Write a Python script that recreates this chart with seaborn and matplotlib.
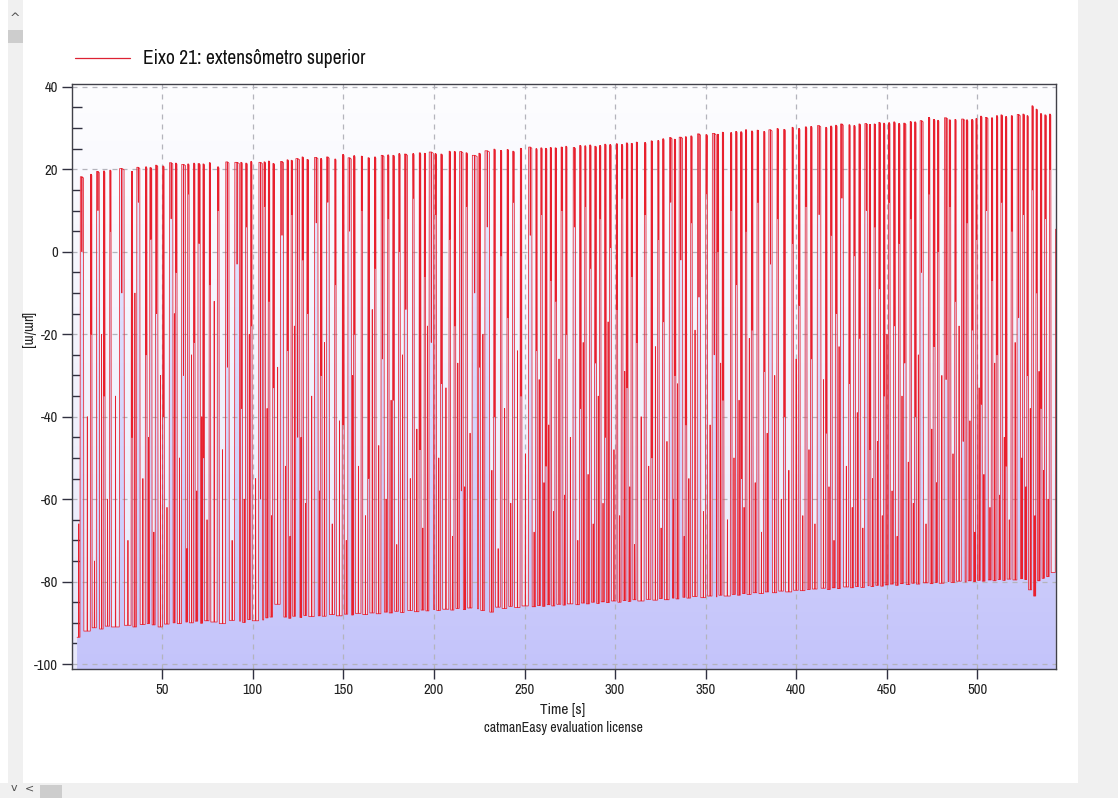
import numpy as np
import pandas as pd
import matplotlib
matplotlib.use("Agg")
import matplotlib.pyplot as plt
from matplotlib import font_manager
from matplotlib.patches import Rectangle
from matplotlib.ticker import MultipleLocator
import seaborn as sns

# ---- measured strain signal: one entry per load pulse ----
start_t, start_val = 3.0, -93.5

rise_t = [
    4.6, 10.3, 13.6, 17.4, 20.9, 26.3, 32.8, 35.8, 40.6, 43.0, 46.1, 50.1, 53.8,
    57.1, 60.6, 63.9, 67.2, 69.6, 72.3, 75.8, 80.3, 84.9, 89.9, 93.2, 95.9, 98.7,
    103.2, 106.0, 108.4, 110.9, 115.1, 118.7, 121.0, 123.6, 127.0, 129.7, 133.9,
    137.2, 140.5, 145.1, 149.3, 152.4, 155.5, 159.7, 163.4, 167.0, 170.7, 174.3,
    177.1, 180.4, 183.5, 188.1, 191.7, 194.5, 197.2, 200.4, 203.6, 208.2, 211.0,
    214.0, 217.5, 221.0, 224.6, 228.0, 232.9, 236.6, 240.2, 243.3, 247.5, 252.1,
    256.1, 258.8, 261.3, 264.0, 266.7, 270.0,
    272.6, 276.7, 280.3, 283.1, 285.8, 288.6, 291.3, 294.1, 296.8, 300.5, 303.3,
    306.0, 308.7, 311.5, 316.0, 319.7, 323.4, 326.1, 329.8, 332.5, 335.2, 338.6,
    341.6, 345.3, 349.9, 353.5, 356.2, 359.0, 363.6, 366.4, 369.1, 371.8, 375.1,
    378.2, 381.9, 384.7, 389.2, 392.9, 397.5, 401.1, 404.8,
    407.8, 411.5, 416.1, 418.8, 421.5, 424.3, 428.9, 431.6, 434.4, 437.7, 440.2,
    442.8, 445.4, 448.1, 450.8, 453.6, 456.3, 459.1, 462.7, 465.2, 468.2, 472.8,
    475.5, 477.9, 481.6, 484.3, 487.4, 491.1, 493.8, 496.6, 499.0, 501.6, 504.2,
    507.6, 510.3, 512.8, 515.4, 518.5, 521.8, 524.9, 527.2, 529.9, 532.2, 534.6,
    537.0, 539.6,
]

top_val = [
    18.2, 18.8, 19.5, 19.6, 19.8, 20.2, 19.5, 20.5, 20.6, 20.4, 21.0, 20.8, 21.6,
    21.5, 21.2, 21.3, 21.5, 21.4, 21.3, 21.6, 20.6, 21.8, 21.7, 21.7, 21.5, 21.9,
    21.7, 21.8, 22.0, 21.4, 21.9, 22.3, 22.2, 22.6, 23.0, 22.4, 22.9,
    22.6, 23.0, 22.5, 23.6, 22.8, 23.3, 23.2, 22.8, 23.0, 23.4, 23.5, 23.4, 23.8,
    23.7, 23.8, 24.0, 23.9, 24.2, 23.8, 23.7, 24.4, 24.3, 24.3, 24.0, 23.4, 23.9,
    24.5, 24.9, 24.6, 24.8, 24.4, 25.1, 25.4, 25.0, 25.2, 25.1, 25.3, 25.2, 25.4,
    25.6, 25.3, 25.8, 25.7, 25.9, 25.6, 25.8, 26.1, 26.0, 26.2, 26.0, 26.4, 26.3,
    26.6, 26.5, 26.9, 27.0, 27.4, 27.7, 27.3, 27.8, 27.9, 28.1, 28.6, 28.4, 28.7,
    28.5, 29.0, 28.9, 29.2, 29.1, 29.6, 29.3, 29.5, 29.2, 29.6, 29.9, 29.7, 30.2,
    29.9, 30.3,
    30.4, 30.6, 30.2, 30.5, 30.7, 31.0, 30.8, 30.6, 31.0, 31.1, 30.9, 31.0, 31.4,
    31.2, 31.3, 31.5, 31.1, 31.2, 31.6, 31.5, 31.8, 32.6, 32.1, 31.9, 32.5, 32.0,
    32.1, 32.2, 32.0, 32.1, 32.3, 32.9, 32.6, 32.5, 33.0, 33.2, 32.8, 33.0, 33.3,
    33.4, 33.0, 35.4, 34.6, 33.5, 33.2, 33.4,
]

hold_s = [
    1.5, 0.4, 1.2, 0.5, 0.4, 2.2, 0.4, 1.4, 0.5, 0.8, 1.0, 0.5, 1.6, 0.6, 1.8,
    0.5, 0.4, 0.9, 0.5, 0.4, 0.6, 1.5, 2.2, 0.5, 0.6, 0.4, 1.6, 0.5, 0.5, 0.6,
    1.4, 0.5, 0.4, 1.8, 0.5, 0.6, 1.6,
    0.5, 1.2, 0.4, 0.6, 1.5, 0.5, 0.4, 0.6, 0.5, 1.3, 0.4, 0.6, 0.5, 1.4, 0.5,
    0.6, 0.4, 2.0, 0.5, 0.6, 0.4, 0.5, 1.6, 0.5, 2.4, 0.6, 2.2, 0.5, 0.4, 0.5,
    0.6, 0.5, 1.5, 0.4, 0.5, 0.6, 0.4, 0.5, 0.6,
    0.4, 1.0, 0.5, 0.4, 0.5, 0.6, 0.4, 0.5, 0.6, 0.4, 0.5, 0.6, 0.5, 0.4, 0.6,
    0.5, 0.4, 0.5, 1.2, 0.5, 1.6, 0.4, 0.5, 1.4, 0.6, 1.8, 0.5, 0.5, 0.4, 0.5,
    0.6, 0.4, 0.5, 0.6, 0.4, 1.5, 0.5, 0.6, 0.4, 0.5, 0.6,
    0.5, 1.6, 0.4, 0.5, 0.6, 1.2, 0.4, 0.5, 0.6, 1.3, 0.4, 0.5, 0.6, 0.4, 0.5,
    0.6, 0.5, 1.0, 0.4, 0.5, 1.4, 0.5, 0.6, 0.4, 1.6, 0.5, 0.4, 1.5, 0.5, 0.6,
    0.4, 0.5, 1.2, 0.4, 0.5, 0.6, 0.4, 0.5, 1.4, 0.6, 0.4, 0.5, 0.4, 0.5, 0.6,
    0.5,
]

bottom_val = [
    -92.0, -91.2, -91.5, -90.8, -91.0, -90.6, -91.0, -90.4, -90.2, -90.5, -91.0,
    -90.3, -90.0, -90.2, -89.8, -90.0, -89.6, -90.1, -89.5, -89.8, -90.2, -89.4,
    -89.6, -89.9, -89.2, -89.5, -89.3, -88.8, -88.6, -85.5, -88.6, -88.9, -88.4,
    -88.7, -88.2, -88.5, -88.3,
    -88.4, -88.0, -88.3, -87.9, -88.1, -87.7, -88.0, -87.6, -87.8, -87.4, -87.6,
    -87.2, -87.5, -87.0, -87.3, -86.9, -87.1, -86.8, -87.0, -86.7, -86.9, -86.5,
    -86.8, -86.4, -86.6, -87.0, -87.4, -86.2, -86.5, -86.0, -86.3, -85.9, -86.1,
    -85.8, -86.0, -85.6, -85.9, -85.5, -85.7,
    -85.4, -85.6, -85.2, -85.4, -85.0, -85.3, -84.9, -85.1, -84.7, -85.0, -84.6,
    -84.8, -84.4, -84.7, -84.3, -84.5, -84.1, -84.4, -84.0, -84.2, -83.8, -84.0,
    -83.6, -83.9, -83.5, -83.7, -83.3, -83.5, -83.1, -83.3, -82.9, -83.1, -82.7,
    -82.9, -82.5, -82.7, -82.3, -82.5, -82.1, -82.2, -81.9,
    -81.8, -81.6, -81.9, -81.5, -81.7, -81.3, -81.5, -81.2, -81.4, -81.0, -81.2,
    -80.9, -81.1, -80.8, -80.6, -80.9, -80.5, -80.7, -80.4, -80.6, -80.3, -80.5,
    -80.2, -80.4, -80.0, -80.2, -79.9, -80.1, -79.8, -80.0, -79.7, -79.9, -79.6,
    -79.8, -79.5, -79.7, -79.4, -79.6, -79.3, -79.5, -82.0, -83.5, -79.8, -79.2,
    -78.8, -77.8,
]

# short partial load spikes: upward while unloaded, downward while loaded
low_spike = [
    -66, -40, -75, -20, -60, -35, -70, -10, -55, -45, -68, -30, -62, -15, -50,
    -72, -25, -58, -40, -65, -12, -48, -70, -33, -60, -20, -55, -74, -38, -64,
    -28, -52, -69, -18, -45, -61, -35,
    -58, -22, -66, -41, -70, -30, -52, -64, -14, -47, -60, -36, -71, -25, -55,
    -43, -67, -18, -62, -50, -33, -69, -27, -57, -44, -65, -20, -53, -72, -38,
    -61, -24, -49, -68, -31, -56, -42, -63, -26,
    -59, -45, -70, -22, -54, -66, -35, -61, -17, -48, -64, -29, -57, -71, -40,
    -52, -23, -67, -46, -60, -32, -69, -55, -19, -63, -42, -58, -27, -65, -50,
    -36, -62, -21, -56, -68, -44, -30, -60, -53, -26, -64,
    -48, -66, -31, -57, -70, -23, -52, -62, -39, -67, -28, -55, -46, -64, -20,
    -58, -69, -35, -51, -61, -25, -66, -43, -56, -30, -63, -49, -18, -60, -41,
    -68, -33, -54, -62, -27, -59, -45, -65, -22, -50, -57, -38, -64, -29, -53,
    -60,
]

high_dip = [
    0, -20, 10, -35, 5, -10, -45, 12, -25, 3, -15, -40, 8, -5, -30, 14, -22, 2,
    -50, -8, 10, -28, -3, -38, 6, -18, -60, 11, -12, -33, 4, -24, 9, -45, -2,
    -15, 7,
    -30, 12, -8, -42, 5, -20, 10, -55, -4, -26, 8, -36, 0, -14, 13, -48, -6, -22,
    9, -32, 3, -18, -58, 11, -10, -28, 6, -40, -1, -16, 12, -35, 4, -24, 9, -52,
    -7, -12, 10,
    -20, 6, -38, 11, -4, -27, 8, -45, 1, -14, 13, -33, -6, -22, 9, -50, 3, -17,
    12, -30, -2, -42, 7, -11, 14, -25, 0, -36, 10, -8, -55, 5, -19, 12, -29, -3,
    8, -40, 2, -13, 11,
    -26, 9, -44, 4, -15, 13, -32, -1, -21, 10, -48, 6, -9, -35, 12, -18, 2, -27,
    8, -40, -5, 14, -23, 0, -31, 11, -12, -46, 7, -19, 3, -37, 10, -7, -25, 12,
    -52, 5, -16, 9, -30, 15, -10, -38, 8, 20,
]

end_t, end_val = 543.2, 5.5

legend_label = "Eixo 21: extensômetro superior"
x_label = "Time [s]"
y_label = "[µm/m]"
footer = "catmanEasy evaluation license"
x_ticks = [50, 100, 150, 200, 250, 300, 350, 400, 450, 500]
y_ticks = [-100, -80, -60, -40, -20, 0, 20, 40]
x_range = (0.2, 543.4)
y_range = (-101.2, 40.7)

# ---- assemble the sampled trace ----
STEP = 0.2     # duration of a full load/unload edge
SPIKE = 0.12   # half-width of a partial spike
t_pts, v_pts = [start_t], [start_val]
prev_bottom, prev_end = start_val, start_t
n = len(rise_t)
for i in range(n):
    r = rise_t[i]
    gap = r - prev_end
    if gap > 0.6:
        s = prev_end + 0.5 * gap
        t_pts += [s, s + SPIKE, s + 2 * SPIKE]
        v_pts += [prev_bottom, low_spike[i], prev_bottom]
    t_pts += [r, r + STEP]
    v_pts += [prev_bottom, top_val[i]]
    nxt = rise_t[i + 1] if i + 1 < n else end_t
    hold = min(hold_s[i], nxt - r - 0.9)
    d = r + STEP + 0.5 * hold
    t_pts += [d, d + SPIKE, d + 2 * SPIKE]
    v_pts += [top_val[i], high_dip[i], top_val[i]]
    f = r + STEP + hold + 2 * SPIKE
    t_pts += [f, f + STEP]
    v_pts += [top_val[i] - 0.3, bottom_val[i]]
    prev_bottom, prev_end = bottom_val[i], f + STEP
t_pts += [end_t - 0.2, end_t]
v_pts += [prev_bottom, end_val]

trace = pd.DataFrame({"t": t_pts, "v": v_pts})

# ---- fonts: prefer a narrow sans face when one is installed ----
sns.set_theme(style="white")
fm_list = font_manager.fontManager.ttflist
narrow_face = None
for f in fm_list:
    if "Narrow" in f.name or "Condensed" in f.name:
        narrow_face = (f.name, "normal")
        break
if narrow_face is None:
    for f in fm_list:
        if str(f.stretch) in ("condensed", "semi-condensed", "extra-condensed") and \
                f.name in ("Liberation Sans", "DejaVu Sans", "Open Sans", "Roboto",
                           "Noto Sans", "Lato", "Inter"):
            narrow_face = (f.name, str(f.stretch))
            break
if narrow_face is not None:
    plt.rcParams["font.family"] = [narrow_face[0], "DejaVu Sans"]
    plt.rcParams["font.stretch"] = narrow_face[1]
    fs_legend, fs_tick, fs_xlab, fs_foot, fs_ylab = 14, 10.5, 11, 10, 10.5
else:
    plt.rcParams["font.family"] = ["Liberation Sans", "DejaVu Sans"]
    fs_legend, fs_tick, fs_xlab, fs_foot, fs_ylab = 12.5, 9.5, 10, 9, 9.5
plt.rcParams["axes.unicode_minus"] = False

W, H = 1118, 798
fig = plt.figure(figsize=(W / 100, H / 100), dpi=100, facecolor="#ffffff")

# window chrome: scroll bars around the chart panel
fig.patches.append(Rectangle((1078 / W, 0), 40 / W, 1, transform=fig.transFigure,
                             facecolor="#f0f0f0", edgecolor="none", zorder=0))
fig.patches.append(Rectangle((8 / W, 0), 15 / W, 1, transform=fig.transFigure,
                             facecolor="#f0f0f0", edgecolor="none", zorder=0))
fig.patches.append(Rectangle((8 / W, 1 - 43 / H), 15 / W, 13 / H, transform=fig.transFigure,
                             facecolor="#cdcdcd", edgecolor="none", zorder=1))
fig.patches.append(Rectangle((0, 0), 1, 15 / H, transform=fig.transFigure,
                             facecolor="#f0f0f0", edgecolor="none", zorder=0))
fig.patches.append(Rectangle((40 / W, 0), 22 / W, 13 / H, transform=fig.transFigure,
                             facecolor="#cdcdcd", edgecolor="none", zorder=1))
fig.text(15 / W, 1 - 18 / H, "^", ha="center", va="center", fontsize=9, color="#505050",
         family="DejaVu Sans")
fig.text(14 / W, 10 / H, "v", ha="center", va="center", fontsize=8, color="#505050",
         family="DejaVu Sans")
fig.text(30 / W, 10 / H, "<", ha="center", va="center", fontsize=8, color="#505050",
         family="DejaVu Sans")

ax = fig.add_axes([72 / W, 1 - 669 / H, (1056 - 72) / W, (669 - 84) / H])
ax.set_xlim(*x_range)
ax.set_ylim(*y_range)

# plot-area background: white fading to pale lavender
ramp = np.linspace(0, 1, 256)
bg_rgb = np.empty((256, 1, 3))
top_c = np.array([253, 253, 255]) / 255
bot_c = np.array([232, 232, 250]) / 255
for k in range(3):
    bg_rgb[:, 0, k] = top_c[k] + (bot_c[k] - top_c[k]) * ramp
ax.imshow(bg_rgb, extent=[*x_range, *y_range], origin="upper", aspect="auto",
          zorder=0, interpolation="bilinear")

# lavender area fill below the trace
fill_rgb = np.empty((256, 1, 3))
ftop = np.array([238, 238, 254]) / 255
fbot = np.array([196, 196, 250]) / 255
for k in range(3):
    fill_rgb[:, 0, k] = ftop[k] + (fbot[k] - ftop[k]) * ramp
area = ax.fill_between(trace["t"], trace["v"], y_range[0], facecolor="none",
                       edgecolor="none", zorder=1)
fill_im = ax.imshow(fill_rgb, extent=[*x_range, *y_range], origin="upper",
                    aspect="auto", zorder=1, interpolation="bilinear")
fill_im.set_clip_path(area.get_paths()[0], transform=ax.transData)

# grid
for xv in x_ticks:
    ax.axvline(xv, color="#b4b4bc", lw=0.9, ls=(0, (4, 4)), zorder=1.5)
for yv in y_ticks:
    ax.axhline(yv, color="#b4b4bc", lw=0.9, ls=(0, (4, 4)), zorder=1.5)

sns.lineplot(data=trace, x="t", y="v", sort=False, estimator=None, ax=ax,
             color="#e8202e", lw=0.55, zorder=3, legend=False)

ax.set_xlabel("")
ax.set_ylabel("")
ax.set_xticks(x_ticks)
ax.set_yticks(y_ticks)
ax.xaxis.set_minor_locator(MultipleLocator(10))
ax.yaxis.set_minor_locator(MultipleLocator(5))
ax.tick_params(axis="both", which="both", bottom=True, left=True, top=False, right=False)
ax.tick_params(axis="both", which="major", direction="out", length=7, width=1,
               color="#303040", labelsize=fs_tick, labelcolor="#202020", pad=3)
ax.tick_params(axis="both", which="minor", direction="in", length=7, width=1,
               color="#303040")
for s in ax.spines.values():
    s.set_color("#404048")
    s.set_linewidth(1.0)
    s.set_visible(True)
    s.set_zorder(4)

# legend entry above the plot
fig.add_artist(plt.Line2D([75 / W, 130 / W], [1 - 58 / H, 1 - 58 / H],
                          transform=fig.transFigure, color="#dd2233", lw=0.9))
fig.text(143 / W, 1 - 58 / H, legend_label, ha="left", va="center", fontsize=fs_legend,
         color="#101010")

fig.text(563 / W, 1 - 710 / H, x_label, ha="center", va="center", fontsize=fs_xlab,
         color="#202020")
fig.text(563 / W, 1 - 728 / H, footer, ha="center", va="center", fontsize=fs_foot,
         color="#202020")
fig.text(27 / W, 1 - 330 / H, y_label, ha="center", va="center", fontsize=fs_ylab,
         rotation=-90, color="#202020")

fig.savefig("out.png", dpi=100, facecolor=fig.get_facecolor())
